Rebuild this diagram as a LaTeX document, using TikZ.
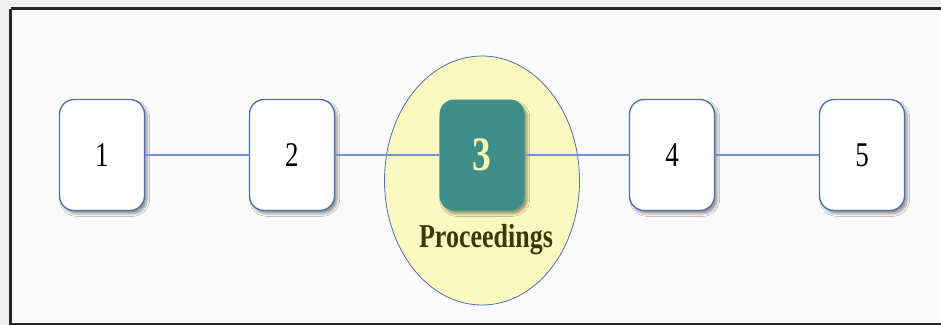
\documentclass[tikz,border=0pt]{standalone}
\usepackage{fontspec}
\setmainfont{Liberation Serif}
\usepackage{graphicx}
\usetikzlibrary{shapes.geometric,shadows.blur}

\definecolor{edgeblue}{RGB}{79,111,174}
\definecolor{linkblue}{RGB}{112,148,212}
\definecolor{stepteal}{RGB}{62,143,138}
\definecolor{paleyellow}{RGB}{251,249,192}
\definecolor{numyellow}{RGB}{252,245,176}
\definecolor{olivetext}{RGB}{59,58,5}

% narrow glyphs, as the numbers and the label are set condensed
\newcommand{\narrow}[1]{\scalebox{0.78}[1]{#1}}

\tikzset{
  stepbox/.style={draw=edgeblue, line width=1pt, fill=white, rounded corners=11pt,
    minimum width=63.75pt, minimum height=83.25pt, inner sep=0pt,
    font=\fontsize{26}{30}\selectfont,
    blur shadow={shadow xshift=2pt, shadow yshift=-2.5pt, shadow blur steps=6, shadow opacity=40}},
  activebox/.style={stepbox, draw=none, fill=stepteal, text=numyellow,
    font=\fontsize{36}{40}\selectfont\bfseries},
  link/.style={draw=linkblue, line width=1.1pt}
}

\begin{document}
\begin{tikzpicture}[x=0.75pt,y=-0.75pt]
\useasboundingbox (0,0) rectangle (941,325);
\clip (0,0) rectangle (941,325);

%Shape: Background
\fill [gray!12] (0,0) rectangle (941,325);
\fill [gray!4] (10.5,8.5) rectangle (950,324);
\draw [line width=1.9pt, black!85] (10.5,8.5) -- (10.5,324) -- (950,324) (10.5,8.5) -- (950,8.5);

%Shape: Ellipse round the current step
\node (halo) at (482,180.5) [ellipse, draw=edgeblue, line width=0.6pt, fill=paleyellow,
  minimum width=146.25pt, minimum height=186.75pt, inner sep=0pt] {};

%Boxes
\node (s1) at (102,155) [stepbox] {\narrow{1}};
\node (s2) at (292,155) [stepbox] {\narrow{2}};
\node (s3) at (482,155) [activebox] {\narrow{3}};
\node (s4) at (672,155) [stepbox] {\narrow{4}};
\node (s5) at (862,155) [stepbox] {\narrow{5}};

%Straight Lines
\draw [link] (s1.east) -- (s2.west);
\draw [link] (s2.east) -- (s3.west);
\draw [link] (s3.east) -- (s4.west);
\draw [link] (s4.east) -- (s5.west);

% Text Node
\node (name) at (486,247) [anchor=base, inner sep=0pt, text=olivetext,
  font=\fontsize{25}{28}\selectfont\bfseries] {\narrow{Proceedings}};

\end{tikzpicture}
\end{document}
